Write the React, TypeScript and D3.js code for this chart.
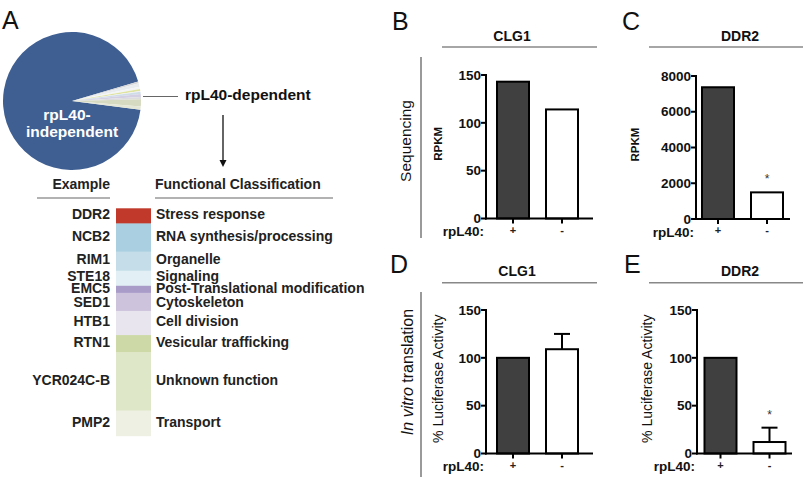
import React from 'react';
import * as d3 from 'd3';

// ---- Panel A data ----
const pieLabels = ['rpL40-dependent', 'rpL40-independent'];
const pieShares = [6.6, 93.4];

const exampleGenes = ['DDR2', 'NCB2', 'RIM1', 'STE18', 'EMC5', 'SED1', 'HTB1', 'RTN1', 'YCR024C-B', 'PMP2'];
const functionalClasses = [
  'Stress response',
  'RNA synthesis/processing',
  'Organelle',
  'Signaling',
  'Post-Translational modification',
  'Cytoskeleton',
  'Cell division',
  'Vesicular trafficking',
  'Unknown function',
  'Transport',
];
const classCounts = [15, 28, 19, 15, 7, 18, 24, 17, 58, 25];
const classColors = ['#c0392b', '#a9cfe0', '#c4dde8', '#e2f0f5', '#a99cc8', '#cdc3dd', '#e8e5ef', '#cdd9a6', '#dfe7c9', '#eef0e3'];
const wedgeColors = ['#d6d7d9', '#e9ecee', '#f3f4f5', '#dfe3a0', '#f1f2f3', '#cfdde8', '#d4d0e3', '#dcdcde', '#d6dac0', '#e4e6d6'];

// ---- Panels B-E data ----
const rpL40Levels = ['+', '-'];
const seqCLG1 = [143, 114];
const seqDDR2 = [7370, 1490];
const ivtCLG1 = [100, 109];
const ivtCLG1Err = [0, 16];
const ivtDDR2 = [100, 12];
const ivtDDR2Err = [0, 15];
const ticks150 = [0, 50, 100, 150];
const ticks8000 = [0, 2000, 4000, 6000, 8000];
const seqDDR2Sig = [false, true];
const ivtDDR2Sig = [false, true];
const noSig = [false, false];
const noErr = [0, 0];

const FONT = 'Liberation Sans, Arial, Helvetica, sans-serif';

type PanelProps = {
  axisX: number;
  axisLen: number;
  barOffset: number;
  y0: number;
  yMax: number;
  max: number;
  ticks: number[];
  values: number[];
  errors: number[];
  sig: boolean[];
  yTitle: string;
  yTitleX: number;
  yTitleSize: number;
  yTitleBold?: boolean;
};

function BarPanel(p: PanelProps) {
  const y = d3.scaleLinear().domain([0, p.max]).range([p.y0, p.yMax]);
  const x = d3
    .scaleBand<string>()
    .domain(rpL40Levels)
    .range([p.axisX + p.barOffset, p.axisX + p.barOffset + 81])
    .paddingInner(17 / 49)
    .paddingOuter(0);
  const bw = x.bandwidth();
  return (
    <g fontFamily={FONT}>
      {rpL40Levels.map((lv, i) => (
        <rect
          key={lv}
          x={x(lv)}
          y={y(p.values[i])}
          width={bw}
          height={p.y0 - y(p.values[i])}
          fill={i === 0 ? '#404040' : '#ffffff'}
          stroke="#000"
          strokeWidth={2}
        />
      ))}
      {rpL40Levels.map((lv, i) =>
        p.errors[i] > 0 ? (
          <g key={'e' + lv} stroke="#000" strokeWidth={2}>
            <line x1={x(lv)! + bw / 2} x2={x(lv)! + bw / 2} y1={y(p.values[i])} y2={y(p.values[i] + p.errors[i])} />
            <line x1={x(lv)! + bw / 2 - 8} x2={x(lv)! + bw / 2 + 8} y1={y(p.values[i] + p.errors[i])} y2={y(p.values[i] + p.errors[i])} />
          </g>
        ) : null
      )}
      {rpL40Levels.map((lv, i) =>
        p.sig[i] ? (
          <text key={'s' + lv} x={x(lv)! + bw / 2} y={y(p.values[i] + p.errors[i]) - 9} fontSize={12} textAnchor="middle" fill="#333">
            *
          </text>
        ) : null
      )}
      <line x1={p.axisX} x2={p.axisX} y1={p.y0 + 1} y2={p.yMax - 1} stroke="#000" strokeWidth={2} />
      <line x1={p.axisX - 1} x2={p.axisX + p.axisLen} y1={p.y0} y2={p.y0} stroke="#000" strokeWidth={2} />
      {p.ticks.map((t) => (
        <g key={t}>
          <line x1={p.axisX - 5} x2={p.axisX} y1={y(t)} y2={y(t)} stroke="#000" strokeWidth={2} />
          <text x={p.axisX - 5} y={y(t)} dy="0.35em" textAnchor="end" fontSize={13.5} fontWeight="bold" fill="#111">
            {t}
          </text>
        </g>
      ))}
      {rpL40Levels.map((lv) => (
        <g key={'t' + lv}>
          <line x1={x(lv)! + bw / 2} x2={x(lv)! + bw / 2} y1={p.y0} y2={p.y0 + 5} stroke="#000" strokeWidth={2} />
          <text x={x(lv)! + bw / 2} y={p.y0 + 15} textAnchor="middle" fontSize={11} fontWeight="bold" fill="#222">
            {lv}
          </text>
        </g>
      ))}
      <text x={p.axisX - 2} y={p.y0 + 17.5} textAnchor="end" fontSize={13.5} fontWeight="bold" fill="#111">
        rpL40:
      </text>
      <text
        transform={`translate(${p.yTitleX},${(p.y0 + p.yMax) / 2 - 3}) rotate(-90)`}
        textAnchor="middle"
        dy="0.35em"
        fontSize={p.yTitleSize}
        fontWeight={p.yTitleBold ? 'bold' : 'normal'}
        fill="#111"
      >
        {p.yTitle}
      </text>
    </g>
  );
}

function PanelA() {
  const cx = 72;
  const cy = 101;
  const r = 69;
  const a0 = (73.5 * Math.PI) / 180;
  const pie = d3.pie<number>().sort(null).value((d) => d).startAngle(a0).endAngle(a0 + 2 * Math.PI);
  const slices = pie(pieShares);
  const arc = d3.arc<d3.PieArcDatum<number>>().innerRadius(0).outerRadius(r);
  const dep = slices[0];
  const sub = d3
    .pie<number>()
    .sort(null)
    .value((d) => d)
    .startAngle(dep.startAngle)
    .endAngle(dep.endAngle)(classCounts);

  const total = d3.sum(classCounts);
  const yb = d3.scaleLinear().domain([0, total]).range([208.3, 435.7]);
  const cum = d3.cumsum(classCounts);
  const starts = classCounts.map((c, i) => cum[i] - c);
  const nudge = [-1.5, -1.5, -2.5, -2.5, -1.5, 0, -1.5, -1.5, -1.5, -1.5];

  return (
    <g fontFamily={FONT}>
      <text x={2} y={29} fontSize={25} fill="#111">A</text>
      <g transform={`translate(${cx},${cy})`}>
        <path d={arc(slices[1])!} fill="#3f5f92" />
        {sub.map((s, i) => (
          <path key={i} d={arc(s as any)!} fill={wedgeColors[i]} />
        ))}
      </g>
      <text x={67} y={120} textAnchor="middle" fontSize={15.5} fontWeight="bold" fill="#fff">
        rpL40-
      </text>
      <text x={72} y={137} textAnchor="middle" fontSize={15.5} fontWeight="bold" fill="#fff">
        independent
      </text>
      <line x1={143} x2={178} y1={96.5} y2={96.5} stroke="#666" strokeWidth={1.2} />
      <text x={185} y={100} fontSize={15.5} fontWeight="bold" fill="#111">
        {pieLabels[0]}
      </text>
      <line x1={223} x2={223} y1={115} y2={161} stroke="#111" strokeWidth={1.3} />
      <path d="M219.5,160 L226.5,160 L223,167 Z" fill="#111" />

      <text x={110} y={189} textAnchor="end" fontSize={14} fontWeight="bold" fill="#222">Example</text>
      <text x={155} y={189} fontSize={14} fontWeight="bold" fill="#222">Functional Classification</text>
      <line x1={37} x2={110} y1={198} y2={198} stroke="#999" strokeWidth={1.5} />
      <line x1={155} x2={333} y1={198} y2={198} stroke="#999" strokeWidth={1.5} />

      {classCounts.map((c, i) => (
        <rect key={i} x={116} width={35} y={yb(starts[i])} height={yb(cum[i]) - yb(starts[i]) + 0.5} fill={classColors[i]} />
      ))}
      {classCounts.map((c, i) => {
        const mid = (yb(starts[i]) + yb(cum[i])) / 2 + nudge[i];
        return (
          <g key={'l' + i}>
            <text x={110} y={mid} dy="0.35em" textAnchor="end" fontSize={14} fontWeight="bold" fill="#222">
              {exampleGenes[i]}
            </text>
            <text x={156} y={mid} dy="0.35em" fontSize={14} fontWeight="bold" fill="#222">
              {functionalClasses[i]}
            </text>
          </g>
        );
      })}
    </g>
  );
}

export default function App() {
  return (
    <svg
      width={805}
      height={478}
      viewBox="0 0 805 478"
      style={{ position: 'absolute', left: 0, top: 0, background: '#fff' }}
    >
      <rect width={805} height={478} fill="#fff" />
      <PanelA />

      <g fontFamily={FONT} fill="#111">
        <text x={392} y={30} fontSize={25}>B</text>
        <text x={622} y={30} fontSize={25}>C</text>
        <text x={390} y={273} fontSize={25}>D</text>
        <text x={624} y={273} fontSize={25}>E</text>
        <text x={512} y={41} textAnchor="middle" fontSize={14} fontWeight="bold">CLG1</text>
        <text x={740} y={41} textAnchor="middle" fontSize={14} fontWeight="bold">DDR2</text>
        <text x={517} y={276} textAnchor="middle" fontSize={14} fontWeight="bold">CLG1</text>
        <text x={740} y={276} textAnchor="middle" fontSize={14} fontWeight="bold">DDR2</text>
      </g>
      <g stroke="#888" strokeWidth={1.5}>
        <line x1={442} x2={597} y1={47} y2={47} />
        <line x1={649} x2={803} y1={47} y2={47} />
        <line x1={442} x2={597} y1={282.7} y2={282.7} />
        <line x1={649} x2={803} y1={282.7} y2={282.7} />
      </g>
      <g stroke="#9a9a9a" strokeWidth={2}>
        <line x1={421} x2={421} y1={57} y2={238} />
        <line x1={421} x2={421} y1={292} y2={477} />
      </g>
      <g fontFamily={FONT} fill="#111">
        <text transform="translate(406,141) rotate(-90)" textAnchor="middle" dy="0.35em" fontSize={15.5}>
          Sequencing
        </text>
        <text transform="translate(407,372) rotate(-90)" textAnchor="middle" dy="0.35em" fontSize={16}>
          <tspan fontStyle="italic">In vitro</tspan> translation
        </text>
      </g>

      <BarPanel axisX={486} axisLen={107} barOffset={11} y0={218.5} yMax={75} max={150} ticks={ticks150}
        values={seqCLG1} errors={noErr} sig={noSig} yTitle="RPKM" yTitleX={438} yTitleSize={11.5} yTitleBold />
      <BarPanel axisX={696} axisLen={94} barOffset={6} y0={219} yMax={76} max={8000} ticks={ticks8000}
        values={seqDDR2} errors={noErr} sig={seqDDR2Sig} yTitle="RPKM" yTitleX={635} yTitleSize={11.5} yTitleBold />
      <BarPanel axisX={486} axisLen={107} barOffset={11} y0={453.5} yMax={310} max={150} ticks={ticks150}
        values={ivtCLG1} errors={ivtCLG1Err} sig={noSig} yTitle="% Luciferase Activity" yTitleX={438} yTitleSize={14} />
      <BarPanel axisX={697} axisLen={95} barOffset={7.5} y0={453.5} yMax={310} max={150} ticks={ticks150}
        values={ivtDDR2} errors={ivtDDR2Err} sig={ivtDDR2Sig} yTitle="% Luciferase Activity" yTitleX={647} yTitleSize={14} />
    </svg>
  );
}
